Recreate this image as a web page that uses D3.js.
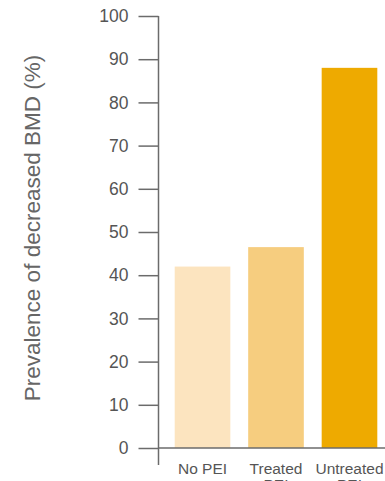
<!DOCTYPE html>
<html>
<head>
<meta charset="utf-8">
<script src="https://cdn.jsdelivr.net/npm/d3@7"></script>
<style>
  html, body { margin: 0; padding: 0; background: #fff; }
  svg { display: block; }
</style>
</head>
<body>
<div id="chart"></div>
<script>
// Data
const categories = ["No PEI", "Treated PEI", "Untreated PEI"];
const prevalence = [42, 46.5, 88];
const barColors = ["#fce4bf", "#f6cd7f", "#eeaa00"];
const yTicks = [0, 10, 20, 30, 40, 50, 60, 70, 80, 90, 100];

// Dimensions
const width = 385;
const height = 481;
const axisX = 158.5;
const axisColor = "#6b6b6b";
const textColor = "#555555";

const svg = d3.select("#chart")
  .append("svg")
  .attr("width", width)
  .attr("height", height);

const x = d3.scaleBand()
  .domain(categories)
  .range([160, 392])
  .paddingInner(0.243)
  .paddingOuter(0.2);

const y = d3.scaleLinear()
  .domain([0, 100])
  .range([448, 16]);

// Bars
svg.selectAll("rect.bar")
  .data(categories)
  .enter()
  .append("rect")
  .attr("class", "bar")
  .attr("x", d => x(d))
  .attr("width", x.bandwidth())
  .attr("y", (d, i) => y(prevalence[i]))
  .attr("height", (d, i) => y(0) - y(prevalence[i]))
  .attr("fill", (d, i) => barColors[i]);

// Baseline
svg.append("line")
  .attr("x1", axisX)
  .attr("x2", width)
  .attr("y1", y(0))
  .attr("y2", y(0))
  .attr("stroke", axisColor)
  .attr("stroke-width", 1.5);

// Y axis
const yAxis = d3.axisLeft(y)
  .tickValues(yTicks)
  .tickSize(20)
  .tickPadding(10)
  .tickSizeOuter(0);

const gy = svg.append("g")
  .attr("transform", `translate(${axisX},0)`)
  .call(yAxis);

gy.select(".domain").remove();
gy.selectAll(".tick line")
  .attr("stroke", axisColor)
  .attr("stroke-width", 1.5);
gy.selectAll(".tick text")
  .attr("fill", textColor)
  .attr("font-family", "Liberation Sans, Arial, sans-serif")
  .attr("font-size", "17.5px");

// vertical axis line (extends below zero)
svg.append("line")
  .attr("x1", axisX)
  .attr("x2", axisX)
  .attr("y1", y(100))
  .attr("y2", 465)
  .attr("stroke", axisColor)
  .attr("stroke-width", 1.5);

// Category labels (two lines, second line runs off the bottom as in the source)
const labels = svg.selectAll("text.cat")
  .data(categories)
  .enter()
  .append("text")
  .attr("class", "cat")
  .attr("text-anchor", "middle")
  .attr("fill", textColor)
  .attr("font-family", "Liberation Sans, Arial, sans-serif")
  .attr("font-size", "15.5px");

labels.each(function(d) {
  const words = d.split(" ");
  const cx = x(d) + x.bandwidth() / 2;
  const t = d3.select(this);
  if (d === "No PEI") {
    t.append("tspan").attr("x", cx).attr("y", 474).text(d);
  } else {
    t.append("tspan").attr("x", cx).attr("y", 474).text(words[0]);
    t.append("tspan").attr("x", cx).attr("y", 490).text(words.slice(1).join(" "));
  }
});

// Y axis title
svg.append("text")
  .attr("transform", "translate(40,228) rotate(-90)")
  .attr("text-anchor", "middle")
  .attr("fill", "#666666")
  .attr("font-family", "Liberation Sans, Arial, sans-serif")
  .attr("font-size", "22.5px")
  .text("Prevalence of decreased BMD (%)");
</script>
</body>
</html>
